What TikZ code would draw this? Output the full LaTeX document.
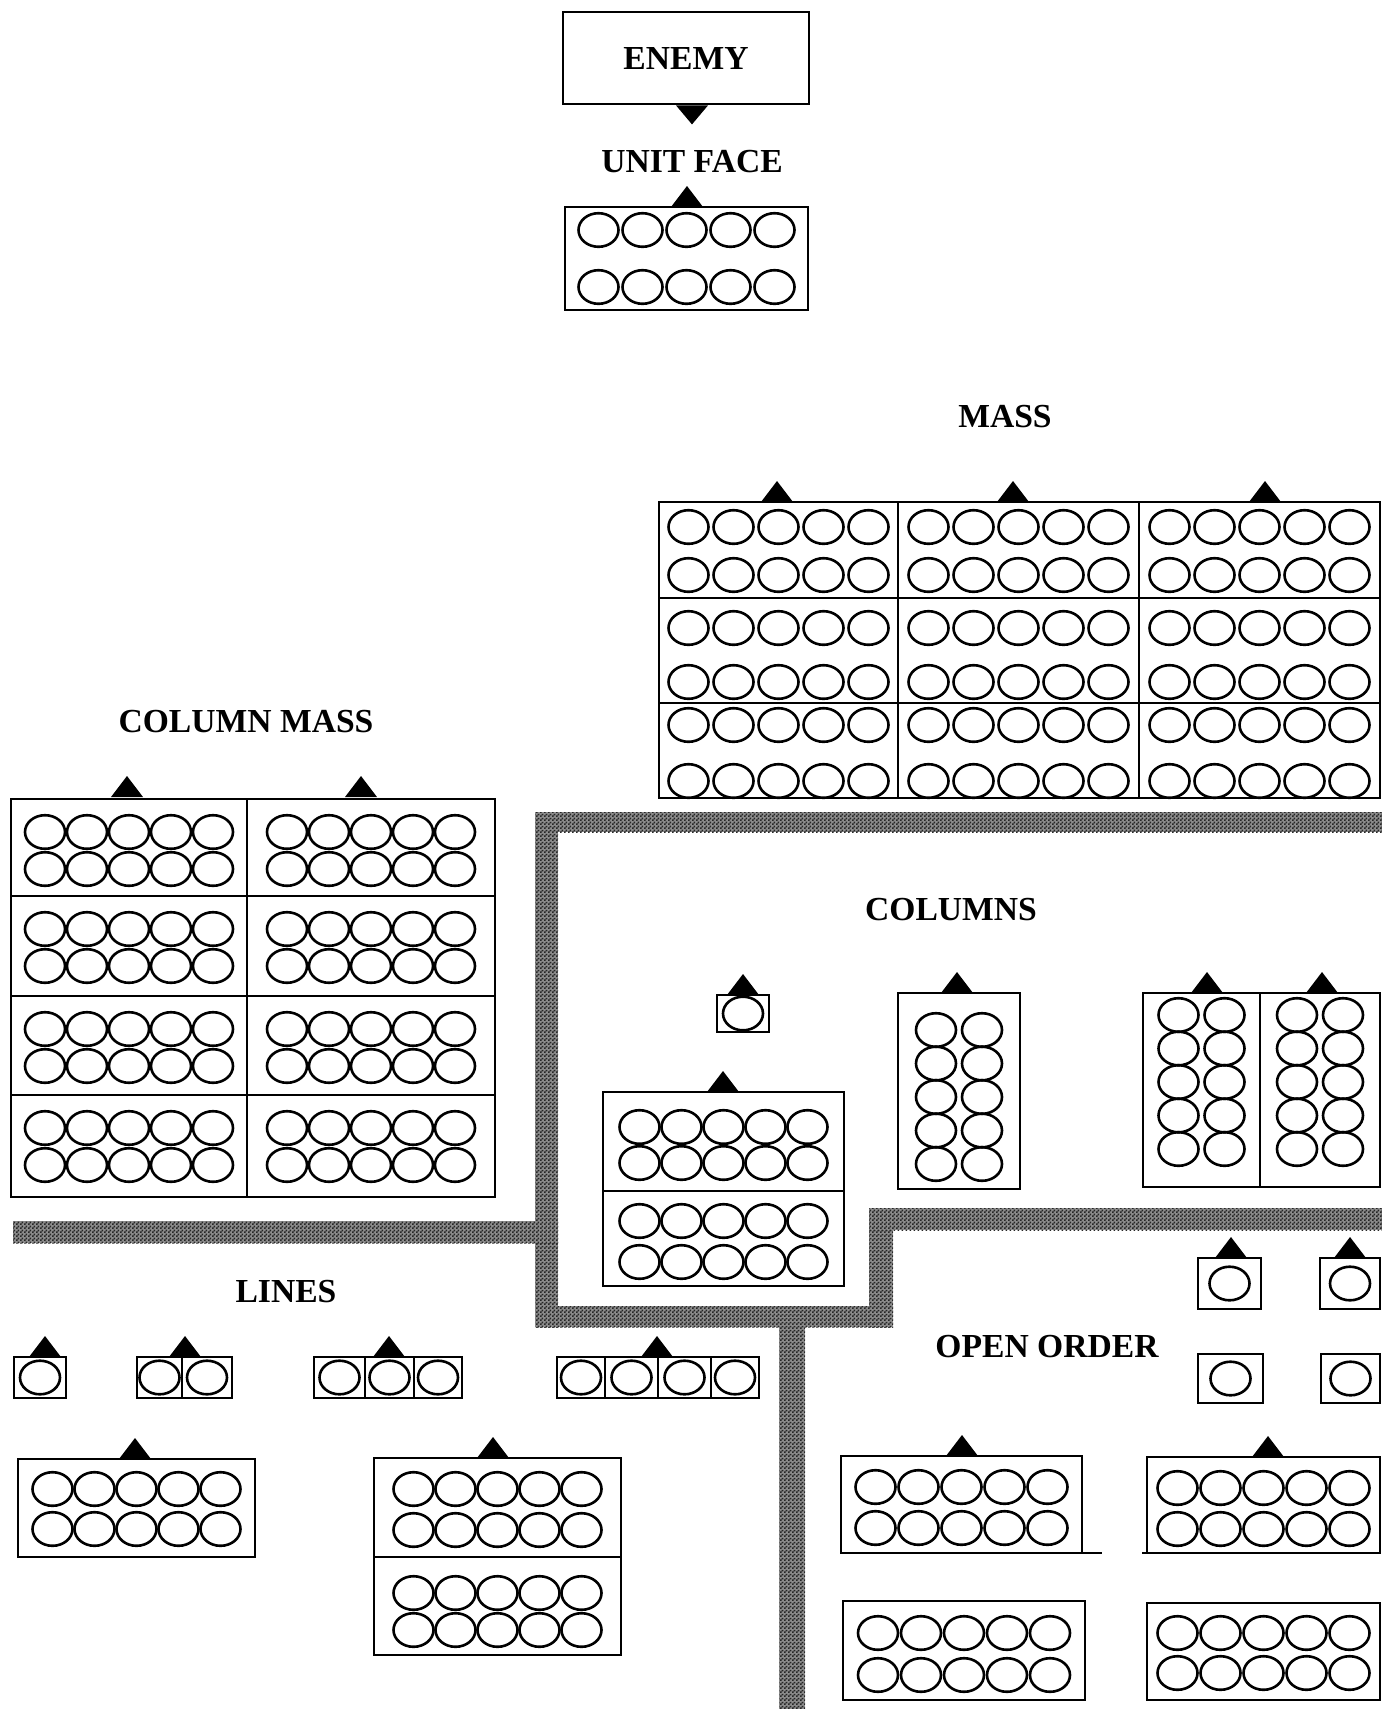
\documentclass[tikz,border=0pt]{standalone}
\usepackage{fontspec}
\setmainfont{Liberation Serif}
\usetikzlibrary{calc}
\usetikzlibrary{patterns}
\pgfdeclarepatternformonly{finecheck}{\pgfpointorigin}{\pgfqpoint{2pt}{2pt}}{\pgfqpoint{2pt}{2pt}}
{
    \pgfpathrectangle{\pgfpointorigin}{\pgfqpoint{1pt}{1pt}}
    \pgfpathrectangle{\pgfqpoint{1pt}{1pt}}{\pgfqpoint{1pt}{1pt}}
    \pgfusepath{fill}
}

\begin{document}
\begin{tikzpicture}[x=0.5pt,y=-0.5pt,
        frame/.style={line width=1.4pt},
        ring/.style={line width=1.3pt},
        face/.style={fill=black},
        band/.style={pattern=finecheck,pattern color=black!85},
        every node/.style={font=\fontsize{16.8}{19}\selectfont\bfseries}]
            \useasboundingbox (0,0) rectangle (1382,1709);
            \foreach \xa/\ya/\xb/\yb in {535/812/1382/832,535/812/558/1327,13/1221/558/1243,535/1306/893/1327,869/1208/893/1327,869/1208/1382/1230,779/1306/805/1709}
            {
                \fill[black!45] (\xa,\ya) rectangle (\xb,\yb);
                \fill[band] (\xa,\ya) rectangle (\xb,\yb);
            }
            \node[draw,frame,minimum width=123pt,minimum height=46pt] (enemy) at (686,58) {ENEMY};
            \fill[face] ($(enemy.south)+(-10,0)$) -- ($(enemy.south)+(22,0)$) -- ($(enemy.south)+(6,19)$) -- cycle;
            \node (unitface) at (692,162) {UNIT FACE};
            \node (mass) at (1005,417) {MASS};
            \node (colmass) at (246,722) {COLUMN MASS};
            \node (columns) at (951,910) {COLUMNS};
            \node (lines) at (286,1292) {LINES};
            \node (openorder) at (1047,1347) {OPEN ORDER};
            \foreach \x/\w in {659/239,898/241,1139/241}
            {
                \foreach \y/\h/\a/\b in {502/96/25/73,598/105/30/84,703/95/22/78}
                {
                    \draw[frame] (\x,\y) rectangle ++(\w,\h);
                    \foreach \i in {-2,...,2}
                        \foreach \j in {\a,\b}
                            \draw[ring] ({\x+\w/2+\i*45},{\y+\j}) ellipse [x radius=10pt,y radius=8.4pt];
                }
            }
            \foreach \x/\w in {11/236,247/248}
            {
                \foreach \y/\h in {799/97,896/100,996/99,1095/102}
                {
                    \draw[frame] (\x,\y) rectangle ++(\w,\h);
                    \foreach \i in {-2,...,2}
                        \foreach \j in {33,70}
                            \draw[ring] ({\x+\w/2+\i*42},{\y+\j}) ellipse [x radius=10pt,y radius=8.4pt];
                }
            }
            \foreach \x/\y/\w/\h/\a/\b/\s in {565/207/243/103/23/80/44,603/1092/241/99/35/71/42,603/1191/241/95/30/71/42,18/1459/237/98/30/70/42,374/1458/247/99/31/72/42,374/1557/247/98/36/73/42,841/1456/241/97/31/72/43,1147/1457/233/96/31/72/43,843/1601/242/99/32/74/43,1147/1603/233/97/30/70/43}
            {
                \draw[frame] (\x,\y) rectangle ++(\w,\h);
                \foreach \i in {-2,...,2}
                    \foreach \j in {\a,\b}
                        \draw[ring] ({\x+\w/2+\i*\s},{\y+\j}) ellipse [x radius=10pt,y radius=8.4pt];
            }
            \draw[frame] (1082,1553) -- (1102,1553);
            \draw[frame] (1142,1553) -- (1147,1553);
            \foreach \x/\y/\w/\h/\a in {898/993/122/196/37,1143/993/117/194/22,1260/993/120/194/22}
            {
                \draw[frame] (\x,\y) rectangle ++(\w,\h);
                \foreach \i in {-1,1}
                    \foreach \k in {0,...,4}
                        \draw[ring] ({\x+\w/2+\i*23},{\y+\a+\k*33.5}) ellipse [x radius=10pt,y radius=8.4pt];
            }
            \foreach \x/\y/\w/\h in {717/995/52/37,14/1357/52/41,137/1357/45/41,182/1357/50/41,314/1357/51/41,365/1357/49/41,414/1357/48/41,557/1357/48/41,605/1357/53/41,658/1357/53/41,711/1357/48/41,1198/1258/63/51,1320/1258/60/51,1198/1354/65/49,1321/1354/59/49}
            {
                \draw[frame] (\x,\y) rectangle ++(\w,\h);
                \draw[ring] ({\x+\w/2},{\y+\h/2}) ellipse [x radius=10pt,y radius=8.4pt];
            }
            \foreach \t/\b in {687/207,777/502,1013/502,1265/502,127/797,361/797,743/995,723/1092,957/993,1207/993,1322/993,45/1357,185/1357,389/1357,657/1357,135/1459,493/1458,1231/1258,1350/1258,962/1456,1268/1457}
            {
                \fill[face] ({\t-16},\b) -- ({\t+16},\b) -- (\t,{\b-21}) -- cycle;
            }
        \end{tikzpicture}
\end{document}
